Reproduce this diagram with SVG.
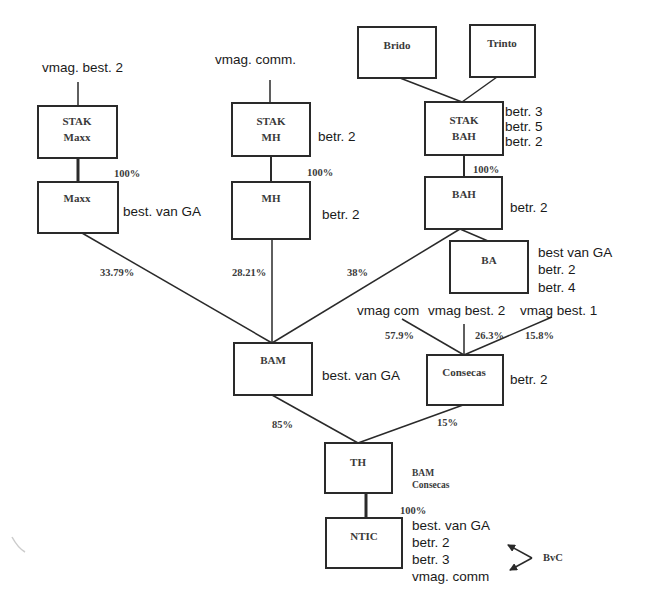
<svg xmlns="http://www.w3.org/2000/svg" width="666" height="600" viewBox="0 0 666 600">
<style>
.box{fill:#fff;stroke:#2a2a2a;stroke-width:2}
.ln{stroke:#2a2a2a;stroke-width:1.5;fill:none}
.sl{font-family:"Liberation Serif",serif;font-size:11px;font-weight:bold;fill:#3a3a3a;text-anchor:middle}
.pc{font-family:"Liberation Serif",serif;font-size:10.5px;font-weight:bold;fill:#3a3a3a}
.an{font-family:"Liberation Sans",sans-serif;font-size:13.5px;fill:#1a1a1a}
</style>
<defs>
<marker id="ah" markerWidth="8" markerHeight="8" refX="7" refY="4" orient="auto" markerUnits="userSpaceOnUse">
<path d="M0,0 L8,4 L0,8 Z" fill="#2a2a2a"/>
</marker>
</defs>
<rect width="666" height="600" fill="#fff"/>

<g id="connectors">
<line class="ln" x1="78" y1="82" x2="78" y2="106"/>
<line class="ln" x1="78" y1="158" x2="78" y2="182" style="stroke-width:3"/>
<line class="ln" x1="82" y1="233" x2="272" y2="343"/>
<line class="ln" x1="270" y1="80" x2="270" y2="103"/>
<line class="ln" x1="271" y1="156" x2="271" y2="182" style="stroke-width:2"/>
<line class="ln" x1="272" y1="239" x2="272" y2="343"/>
<line class="ln" x1="400" y1="78" x2="462" y2="102"/>
<line class="ln" x1="497" y1="77" x2="462" y2="102"/>
<line class="ln" x1="464" y1="155" x2="464" y2="177" style="stroke-width:2"/>
<line class="ln" x1="460" y1="229" x2="488" y2="241"/>
<line class="ln" x1="460" y1="229" x2="272" y2="343"/>
<line class="ln" x1="402" y1="319" x2="464" y2="355"/>
<line class="ln" x1="464" y1="324" x2="464" y2="355"/>
<line class="ln" x1="552" y1="317" x2="464" y2="355"/>
<line class="ln" x1="463" y1="405" x2="358" y2="443"/>
<line class="ln" x1="272" y1="395" x2="358" y2="443"/>
<line class="ln" x1="366" y1="493" x2="366" y2="518" style="stroke-width:3"/>
<line class="ln" x1="532" y1="558" x2="508" y2="545" marker-end="url(#ah)"/>
<line class="ln" x1="532" y1="558" x2="510" y2="570" marker-end="url(#ah)"/>
</g>

<g id="stak-maxx"><rect class="box" x="38" y="106" width="79" height="52"/><text class="sl" x="77" y="125">STAK</text><text class="sl" x="77" y="141">Maxx</text></g>
<g id="maxx"><rect class="box" x="38" y="182" width="80" height="51"/><text class="sl" x="77" y="202">Maxx</text></g>
<g id="stak-mh"><rect class="box" x="232" y="103" width="78" height="53"/><text class="sl" x="271" y="125">STAK</text><text class="sl" x="271" y="141">MH</text></g>
<g id="mh"><rect class="box" x="232" y="182" width="78" height="57"/><text class="sl" x="271" y="202">MH</text></g>
<g id="brido"><rect class="box" x="358" y="27" width="78" height="51"/><text class="sl" x="397" y="49">Brido</text></g>
<g id="trinto"><rect class="box" x="470" y="25" width="65" height="52"/><text class="sl" x="502" y="47">Trinto</text></g>
<g id="stak-bah"><rect class="box" x="425" y="102" width="78" height="53"/><text class="sl" x="464" y="124">STAK</text><text class="sl" x="464" y="140">BAH</text></g>
<g id="bah"><rect class="box" x="425" y="177" width="77" height="52"/><text class="sl" x="464" y="198">BAH</text></g>
<g id="ba"><rect class="box" x="450" y="241" width="78" height="52"/><text class="sl" x="489" y="264">BA</text></g>
<g id="bam"><rect class="box" x="234" y="343" width="78" height="52"/><text class="sl" x="273" y="364">BAM</text></g>
<g id="consecas"><rect class="box" x="427" y="355" width="76" height="50"/><text class="sl" x="464" y="376">Consecas</text></g>
<g id="th"><rect class="box" x="325" y="443" width="67" height="50"/><text class="sl" x="358" y="466">TH</text></g>
<g id="ntic"><rect class="box" x="326" y="518" width="76" height="50"/><text class="sl" x="364" y="540">NTIC</text></g>

<g id="labels">
<text class="an" x="42" y="72">vmag. best. 2</text>
<text class="pc" x="114" y="177">100%</text>
<text class="an" x="123" y="216">best. van GA</text>
<text class="an" x="215" y="64">vmag. comm.</text>
<text class="an" x="318" y="141">betr. 2</text>
<text class="pc" x="307" y="176">100%</text>
<text class="an" x="322" y="219">betr. 2</text>
<text class="an" x="505" y="116">betr. 3</text>
<text class="an" x="505" y="131">betr. 5</text>
<text class="an" x="505" y="146">betr. 2</text>
<text class="pc" x="473" y="173">100%</text>
<text class="an" x="510" y="212">betr. 2</text>
<text class="an" x="538" y="257">best van GA</text>
<text class="an" x="538" y="274">betr. 2</text>
<text class="an" x="538" y="292">betr. 4</text>
<text class="an" x="357" y="315">vmag com</text>
<text class="an" x="428" y="315">vmag best. 2</text>
<text class="an" x="520" y="315">vmag best. 1</text>
<text class="pc" x="385" y="339">57.9%</text>
<text class="pc" x="475" y="339">26.3%</text>
<text class="pc" x="525" y="339">15.8%</text>
<text class="an" x="510" y="384">betr. 2</text>
<text class="pc" x="437" y="426">15%</text>
<text class="pc" x="100" y="276">33.79%</text>
<text class="pc" x="232" y="276">28.21%</text>
<text class="pc" x="347" y="276">38%</text>
<text class="an" x="322" y="380">best. van GA</text>
<text class="pc" x="272" y="428">85%</text>
<text class="pc" x="412" y="476" style="font-size:9.5px">BAM</text>
<text class="pc" x="412" y="488" style="font-size:9.5px">Consecas</text>
<text class="pc" x="400" y="514">100%</text>
<text class="an" x="412" y="530">best. van GA</text>
<text class="an" x="412" y="547">betr. 2</text>
<text class="an" x="412" y="564">betr. 3</text>
<text class="an" x="412" y="581">vmag. comm</text>
<text class="pc" x="543" y="561">BvC</text>
</g>
<path d="M12,537 Q18,548 25,552" stroke="#ccc" stroke-width="1.5" fill="none"/>
</svg>
